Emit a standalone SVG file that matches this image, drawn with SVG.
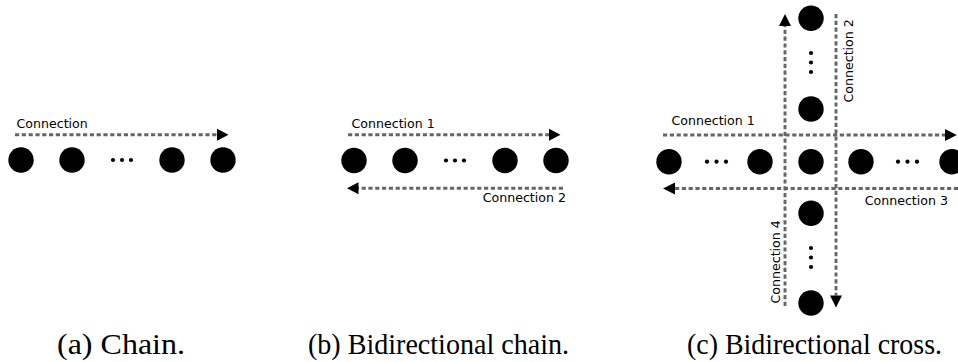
<svg xmlns="http://www.w3.org/2000/svg" width="958" height="362" viewBox="0 0 958 362">
  <style>
    .node { fill: #000; }
    .dot { fill: #000; }
    .link { fill: none; stroke: #666; stroke-width: 2.9; stroke-dasharray: 4.2 2.6; }
    .head { fill: #000; }
    .lbl { font-family: "DejaVu Sans", "Liberation Sans", sans-serif; font-size: 12.6px; fill: #000; }
    .cap { font-family: "Liberation Serif", "DejaVu Serif", serif; font-size: 29px; fill: #000; }
  </style>

  <!-- (a) Chain -->
  <g id="chain">
    <g id="a-n1"><circle class="node" cx="21" cy="160" r="12.7"/></g>
    <g id="a-n2"><circle class="node" cx="72" cy="160" r="12.7"/></g>
    <g id="a-ellipsis">
      <circle class="dot" cx="113" cy="160" r="2.1"/>
      <circle class="dot" cx="122" cy="160" r="2.1"/>
      <circle class="dot" cx="131" cy="160" r="2.1"/>
    </g>
    <g id="a-n3"><circle class="node" cx="172" cy="160" r="12.7"/></g>
    <g id="a-n4"><circle class="node" cx="223" cy="160" r="12.7"/></g>
  </g>

  <!-- (b) Bidirectional chain -->
  <g id="bichain">
    <g id="b-n1"><circle class="node" cx="354" cy="160.5" r="12.7"/></g>
    <g id="b-n2"><circle class="node" cx="405" cy="160.5" r="12.7"/></g>
    <g id="b-ellipsis">
      <circle class="dot" cx="446" cy="160.5" r="2.1"/>
      <circle class="dot" cx="455" cy="160.5" r="2.1"/>
      <circle class="dot" cx="464" cy="160.5" r="2.1"/>
    </g>
    <g id="b-n3"><circle class="node" cx="505" cy="160.5" r="12.7"/></g>
    <g id="b-n4"><circle class="node" cx="556" cy="160.5" r="12.7"/></g>
  </g>

  <!-- (c) Bidirectional cross -->
  <g id="cross">
    <g id="c-w2"><circle class="node" cx="669" cy="161.7" r="12.7"/></g>
    <g id="c-w-ellipsis">
      <circle class="dot" cx="707" cy="161.7" r="2.1"/>
      <circle class="dot" cx="716.5" cy="161.7" r="2.1"/>
      <circle class="dot" cx="726" cy="161.7" r="2.1"/>
    </g>
    <g id="c-w1"><circle class="node" cx="760" cy="161.7" r="12.7"/></g>
    <g id="c-center"><circle class="node" cx="811" cy="161.7" r="12.7"/></g>
    <g id="c-e1"><circle class="node" cx="861" cy="161.7" r="12.7"/></g>
    <g id="c-e-ellipsis">
      <circle class="dot" cx="898" cy="161.7" r="2.1"/>
      <circle class="dot" cx="907.5" cy="161.7" r="2.1"/>
      <circle class="dot" cx="917" cy="161.7" r="2.1"/>
    </g>
    <g id="c-e2"><circle class="node" cx="952" cy="161.7" r="12.7"/></g>
    <g id="c-n2"><circle class="node" cx="811" cy="18.3" r="12.7"/></g>
    <g id="c-n-ellipsis">
      <circle class="dot" cx="811" cy="53" r="2.1"/>
      <circle class="dot" cx="811" cy="62.5" r="2.1"/>
      <circle class="dot" cx="811" cy="72" r="2.1"/>
    </g>
    <g id="c-n1"><circle class="node" cx="811" cy="109" r="12.7"/></g>
    <g id="c-s1"><circle class="node" cx="811" cy="213.3" r="12.7"/></g>
    <g id="c-s-ellipsis">
      <circle class="dot" cx="811" cy="248" r="2.1"/>
      <circle class="dot" cx="811" cy="257.5" r="2.1"/>
      <circle class="dot" cx="811" cy="267" r="2.1"/>
    </g>
    <g id="c-s2"><circle class="node" cx="811" cy="303" r="12.7"/></g>
  </g>

  <!-- dashed connections with their arrowheads and labels -->
  <g id="connectors">
    <!-- (a) -->
    <line class="link" x1="15" y1="134.7" x2="217" y2="134.7"/>
    <polygon class="head" points="217,128.7 228.5,134.7 217,140.7"/>
    <text class="lbl" x="16.5" y="128">Connection</text>

    <!-- (b) -->
    <line class="link" x1="348" y1="134.7" x2="549" y2="134.7"/>
    <polygon class="head" points="549,128.7 560.5,134.7 549,140.7"/>
    <text class="lbl" x="351.5" y="128">Connection 1</text>
    <line class="link" x1="563" y1="188.3" x2="358" y2="188.3"/>
    <polygon class="head" points="358.5,182.3 347,188.3 358.5,194.3"/>
    <text class="lbl" x="566" y="201.7" text-anchor="end">Connection 2</text>

    <!-- (c) -->
    <line class="link" x1="663" y1="135" x2="945" y2="135"/>
    <polygon class="head" points="945,129 956.8,135 945,141"/>
    <text class="lbl" x="671.5" y="125">Connection 1</text>

    <line class="link" x1="958" y1="188.5" x2="675" y2="188.5"/>
    <polygon class="head" points="675,182.5 663,188.5 675,194.5"/>
    <text class="lbl" x="948" y="205" text-anchor="end">Connection 3</text>

    <line class="link" x1="836" y1="14" x2="836" y2="295.5"/>
    <polygon class="head" points="830,295.5 836,307.5 842,295.5"/>
    <text class="lbl" x="853" y="102.5" transform="rotate(-90 853 102.5)">Connection 2</text>

    <line class="link" x1="785" y1="306" x2="785" y2="26"/>
    <polygon class="head" points="779,26 785,14 791,26"/>
    <text class="lbl" x="779.5" y="303.5" transform="rotate(-90 779.5 303.5)">Connection 4</text>
  </g>

  <!-- sub-figure captions -->
  <g id="captions">
    <text class="cap" x="57" y="354" textLength="128" lengthAdjust="spacingAndGlyphs">(a) Chain.</text>
    <text class="cap" x="308" y="354" textLength="261" lengthAdjust="spacingAndGlyphs">(b) Bidirectional chain.</text>
    <text class="cap" x="687" y="354" textLength="255" lengthAdjust="spacingAndGlyphs">(c) Bidirectional cross.</text>
  </g>
</svg>
